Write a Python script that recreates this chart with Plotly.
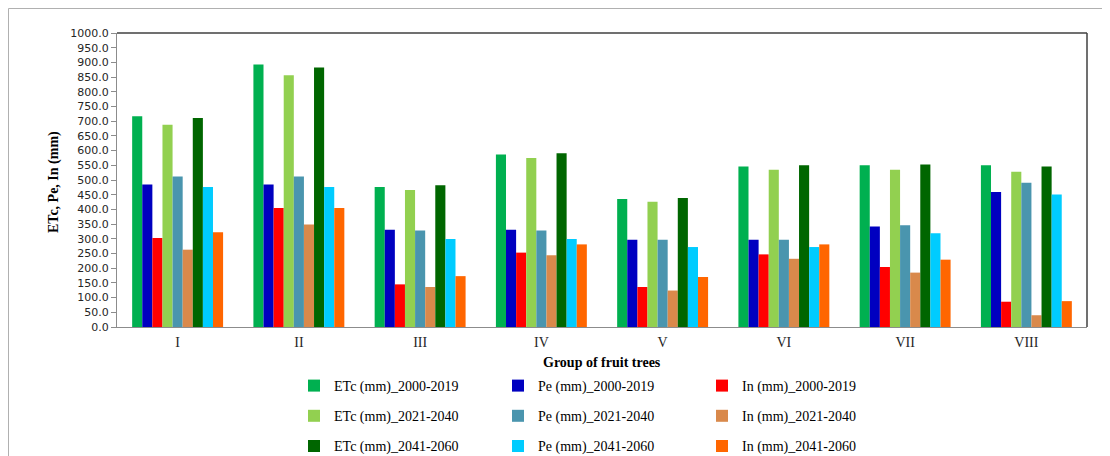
import plotly.graph_objects as go

groups = ["I", "II", "III", "IV", "V", "VI", "VII", "VIII"]

etc_2000 = [717, 893, 476, 587, 435, 546, 550, 550]
pe_2000 = [485, 485, 331, 331, 297, 297, 342, 459]
in_2000 = [303, 405, 145, 253, 136, 247, 204, 86]

etc_2021 = [688, 856, 466, 575, 426, 535, 535, 528]
pe_2021 = [512, 512, 328, 328, 297, 297, 346, 491]
in_2021 = [263, 349, 136, 244, 124, 232, 185, 40]

etc_2041 = [711, 883, 482, 591, 439, 550, 553, 546]
pe_2041 = [476, 476, 299, 299, 272, 272, 319, 451]
in_2041 = [322, 405, 173, 281, 170, 281, 229, 88]

series = [
    ("ETc (mm)_2000-2019", etc_2000, "#00B050", "legend"),
    ("Pe (mm)_2000-2019", pe_2000, "#0000C0", "legend2"),
    ("In (mm)_2000-2019", in_2000, "#FF0000", "legend3"),
    ("ETc (mm)_2021-2040", etc_2021, "#92D050", "legend"),
    ("Pe (mm)_2021-2040", pe_2021, "#4A95AE", "legend2"),
    ("In (mm)_2021-2040", in_2021, "#D9894B", "legend3"),
    ("ETc (mm)_2041-2060", etc_2041, "#006600", "legend"),
    ("Pe (mm)_2041-2060", pe_2041, "#00CCFF", "legend2"),
    ("In (mm)_2041-2060", in_2041, "#FF6600", "legend3"),
]

# page has an 8px body margin, so the figure is shifted by 8px
OFF = 8
W, H = 1110 - OFF, 456 - OFF
L, R, T, B = 109, 23, 25, 129
PW, PH = W - L - R, H - T - B
SERIF = "Liberation Serif, Times New Roman, serif"
SANS = "DejaVu Sans, Verdana, sans-serif"


def px_x(x):  # page pixel -> paper
    return (x - OFF - L) / PW


def px_y(y):
    return (H - B - (y - OFF)) / PH


fig = go.Figure()
for name, vals, color, leg in series:
    fig.add_trace(go.Bar(
        x=groups, y=vals, name=name,
        marker=dict(color=color, line=dict(width=0)),
        legend=leg, legendgroup=name,
    ))

leg_common = dict(
    orientation="v", yanchor="top", xanchor="left",
    font=dict(family=SERIF, size=14, color="black"),
    bgcolor="rgba(0,0,0,0)", tracegroupgap=9,
)

fig.update_layout(
    width=W, height=H,
    margin=dict(l=L, r=R, t=T, b=B, autoexpand=False),
    paper_bgcolor="white", plot_bgcolor="white",
    barmode="group", bargap=0.25, bargroupgap=0,
    font=dict(family=SERIF, size=14, color="black"),
    legend=dict(x=px_x(294), y=px_y(370), **leg_common),
    legend2=dict(x=px_x(498), y=px_y(370), **leg_common),
    legend3=dict(x=px_x(702), y=px_y(370), **leg_common),
    xaxis=dict(
        showline=True, linecolor="#8C8C8C", linewidth=1,
        ticks="", ticklabelstandoff=2,
        tickfont=dict(family=SERIF, size=14, color="#262626"),
        showgrid=False,
    ),
    yaxis=dict(
        range=[0, 1000], dtick=50, tickformat=".1f",
        showline=True, linecolor="#8C8C8C", linewidth=1,
        ticks="outside", ticklen=5, tickcolor="#8C8C8C",
        tickfont=dict(family=SANS, size=11, color="#262626"),
        showgrid=False, zeroline=False,
    ),
    shapes=[
        # plot area top/right border
        dict(type="line", xref="paper", yref="paper", x0=0, x1=1, y0=1, y1=1,
             line=dict(color="#404040", width=1.5)),
        dict(type="line", xref="paper", yref="paper", x0=1, x1=1, y0=0, y1=1,
             line=dict(color="#404040", width=1.5)),
        # outer chart frame
        dict(type="rect", xref="paper", yref="paper",
             x0=px_x(8.5), x1=px_x(1107), y0=px_y(470), y1=px_y(8.5),
             line=dict(color="#B0B0B0", width=1)),
    ],
    annotations=[
        dict(text="<b>ETc, Pe, In (mm)</b>", textangle=-90,
             x=px_x(54), y=px_y(182), xref="paper", yref="paper",
             xanchor="center", yanchor="middle",
             showarrow=False, font=dict(family=SERIF, size=14)),
        dict(text="<b>Group of fruit trees</b>",
             x=px_x(602), y=px_y(362), xref="paper", yref="paper",
             xanchor="center", yanchor="middle",
             showarrow=False, font=dict(family=SERIF, size=14)),
    ],
)

fig.write_html("out.html")
